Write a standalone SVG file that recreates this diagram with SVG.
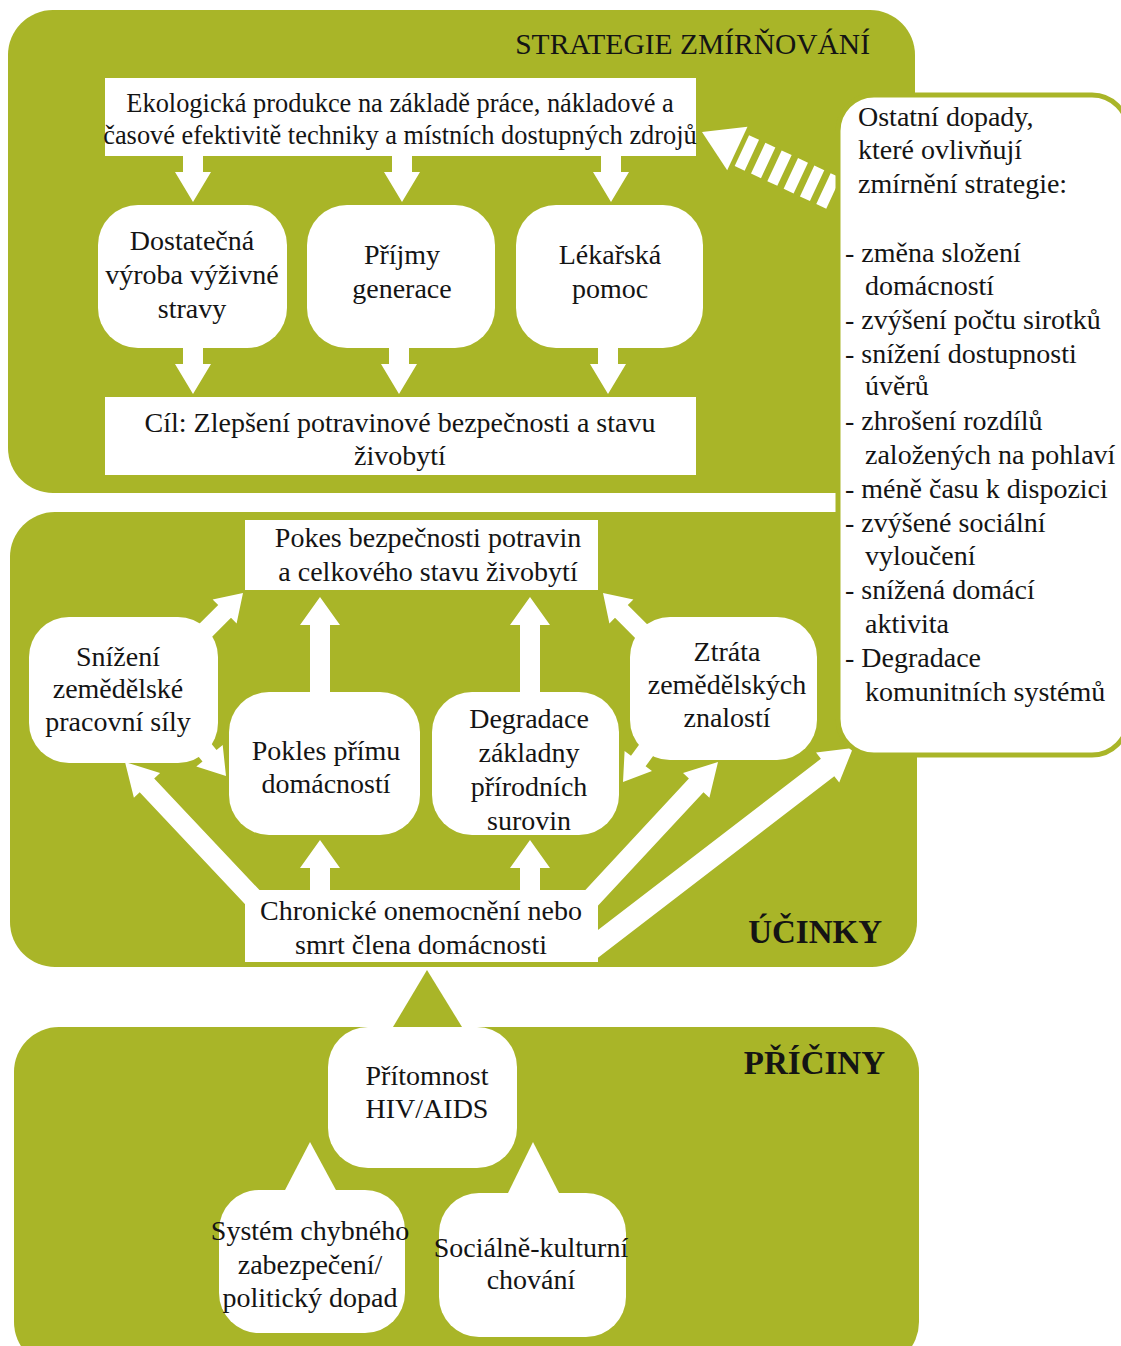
<svg xmlns="http://www.w3.org/2000/svg" width="1121" height="1346" viewBox="0 0 1121 1346">
<style>
.panel{fill:#A9B528}
.node{fill:#ffffff}
.arrow{fill:#ffffff}
.green{fill:#A9B528}
text{font-family:"Liberation Serif","Times New Roman",serif;font-size:28px;fill:#141414}
.c{text-anchor:middle}
.eko{font-size:26.4px}
.title{font-size:33px;font-weight:bold;text-anchor:end}
.title2{font-size:29.5px;text-anchor:end}
</style>
<rect width="1121" height="1346" fill="#ffffff"/>
<g id="panels">
<rect id="panel-strategie" class="panel" x="8" y="10" width="907" height="483" rx="45"/>
<rect id="panel-ucinky" class="panel" x="10" y="512" width="907" height="455" rx="45"/>
<rect id="panel-priciny" class="panel" x="14" y="1027" width="905" height="340" rx="45"/>
<polygon class="green" points="427,970 393,1027 462,1027"/>
</g>
<text class="title2" x="870" y="54">STRATEGIE ZMÍRŇOVÁNÍ</text>
<text class="title" x="882" y="943">ÚČINKY</text>
<text class="title" x="885" y="1074">PŘÍČINY</text>
<g id="connectors">
<polygon class="arrow" points="183,156 203,156 203,172 211,172 193,202 175,172 183,172"/>
<polygon class="arrow" points="392,156 412,156 412,172 420,172 402,202 384,172 392,172"/>
<polygon class="arrow" points="601,156 621,156 621,172 629,172 611,202 593,172 601,172"/>
<polygon class="arrow" points="183,346 203,346 203,364 211,364 193,394 175,364 183,364"/>
<polygon class="arrow" points="389,346 409,346 409,364 417,364 399,394 381,364 389,364"/>
<polygon class="arrow" points="598,346 618,346 618,364 626,364 608,394 590,364 598,364"/>
<g id="striped-arrow" transform="translate(702,132) rotate(25)">
<polygon class="arrow" points="0,0 39,-24 39,24"/>
<rect class="arrow" x="44" y="-17" width="11" height="34"/>
<rect class="arrow" x="62" y="-17" width="11" height="34"/>
<rect class="arrow" x="80" y="-17" width="11" height="34"/>
<rect class="arrow" x="98" y="-17" width="11" height="34"/>
<rect class="arrow" x="116" y="-17" width="11" height="34"/>
<rect class="arrow" x="134" y="-17" width="11" height="34"/>
</g>
<polygon class="arrow" points="310,694 330,694 330,625 340,625 320,597 300,625 310,625"/>
<polygon class="arrow" points="520,694 540,694 540,625 550,625 530,597 510,625 520,625"/>
<polygon class="arrow" points="310,892 330,892 330,868 340,868 320,840 300,868 310,868"/>
<polygon class="arrow" points="520,892 540,892 540,868 550,868 530,840 510,868 520,868"/>
<polygon class="arrow" points="262.3,893.1 154.2,778.4 160.1,773 125,762 133.9,797.7 139.7,792.2 247.7,906.9"/>
<polygon class="arrow" points="592.3,911.8 703.5,792.2 709.4,797.7 718,762 683,773.1 688.9,778.6 577.7,898.2"/>
<polygon class="arrow" points="596.7,958.7 834.3,776.2 839.2,782.6 853,748 816,752.4 820.9,758.8 583.3,941.3"/>
<polygon class="arrow" points="206.4,642.4 231,617.8 236.6,623.4 243,593 212.6,599.4 218.2,605 193.6,629.6"/>
<polygon class="arrow" points="188,743.7 202.5,761.5 196.3,766.6 226,776 222.7,745 216.5,750.1 202,732.3"/>
<polygon class="arrow" points="651.4,628.6 627.8,605 633.4,599.4 603,593 609.4,623.4 615,617.8 638.6,641.4"/>
<polygon class="arrow" points="657.3,750.3 645.6,766.3 652,771 623,782 624.6,751 631,755.7 642.7,739.7"/>
<polygon class="arrow" points="310,1142 284,1192 337,1192"/>
<polygon class="arrow" points="533,1142 507,1195 560,1195"/>
</g>
<g id="node-ekologicka">
<rect class="node" x="105" y="78" width="591" height="78"/>
<text class="c eko" x="400" y="112">Ekologická produkce na základě práce, nákladové a</text>
<text class="c eko" x="400" y="144">časové efektivitě techniky a místních dostupných zdrojů</text>
</g>
<g id="node-dostatecna">
<rect class="node" x="98" y="205" width="189" height="143" rx="40"/>
<text class="c" x="192" y="250">Dostatečná</text>
<text class="c" x="192" y="284">výroba výživné</text>
<text class="c" x="192" y="318">stravy</text>
</g>
<g id="node-prijmy">
<rect class="node" x="307" y="205" width="188" height="143" rx="40"/>
<text class="c" x="402" y="264">Příjmy</text>
<text class="c" x="402" y="298">generace</text>
</g>
<g id="node-lekarska">
<rect class="node" x="516" y="205" width="187" height="143" rx="40"/>
<text class="c" x="610" y="264">Lékařská</text>
<text class="c" x="610" y="298">pomoc</text>
</g>
<g id="node-cil">
<rect class="node" x="105" y="397" width="591" height="78"/>
<text class="c" x="400" y="432">Cíl: Zlepšení potravinové bezpečnosti a stavu</text>
<text class="c" x="400" y="465">živobytí</text>
</g>
<g id="node-ostatni">
<rect x="838" y="95" width="290" height="660" rx="36" fill="#ffffff" stroke="#A9B528" stroke-width="5"/>
<text x="858" y="126">Ostatní dopady,</text>
<text x="858" y="159">které ovlivňují</text>
<text x="858" y="193">zmírnění strategie:</text>
<text x="845" y="262">- změna složení</text>
<text x="865" y="295">domácností</text>
<text x="845" y="329">- zvýšení počtu sirotků</text>
<text x="845" y="363">- snížení dostupnosti</text>
<text x="865" y="395">úvěrů</text>
<text x="845" y="430">- zhrošení rozdílů</text>
<text x="865" y="464">založených na pohlaví</text>
<text x="845" y="498">- méně času k dispozici</text>
<text x="845" y="532">- zvýšené sociální</text>
<text x="865" y="565">vyloučení</text>
<text x="845" y="599">- snížená domácí</text>
<text x="865" y="633">aktivita</text>
<text x="845" y="667">- Degradace</text>
<text x="865" y="701">komunitních systémů</text>
</g>
<g id="node-pokes">
<rect class="node" x="245" y="520" width="353" height="70"/>
<text class="c" x="428" y="547">Pokes bezpečnosti potravin</text>
<text class="c" x="428" y="581">a celkového stavu živobytí</text>
</g>
<g id="node-snizeni">
<rect class="node" x="29" y="617" width="189" height="146" rx="40"/>
<text class="c" x="118" y="666">Snížení</text>
<text class="c" x="118" y="698">zemědělské</text>
<text class="c" x="118" y="731">pracovní síly</text>
</g>
<g id="node-pokles">
<rect class="node" x="229" y="692" width="191" height="143" rx="40"/>
<text class="c" x="326" y="760">Pokles přímu</text>
<text class="c" x="326" y="793">domácností</text>
</g>
<g id="node-degradace">
<rect class="node" x="432" y="692" width="187" height="143" rx="40"/>
<text class="c" x="529" y="728">Degradace</text>
<text class="c" x="529" y="762">základny</text>
<text class="c" x="529" y="796">přírodních</text>
<text class="c" x="529" y="830">surovin</text>
</g>
<g id="node-ztrata">
<rect class="node" x="630" y="617" width="187" height="143" rx="40"/>
<text class="c" x="727" y="661">Ztráta</text>
<text class="c" x="727" y="694">zemědělských</text>
<text class="c" x="727" y="727">znalostí</text>
</g>
<g id="node-chronicke">
<rect class="node" x="245" y="890" width="353" height="72"/>
<text class="c" x="421" y="920">Chronické onemocnění nebo</text>
<text class="c" x="421" y="954">smrt člena domácnosti</text>
</g>
<g id="node-hiv">
<rect class="node" x="328" y="1027" width="189" height="141" rx="40"/>
<text class="c" x="427" y="1085">Přítomnost</text>
<text class="c" x="427" y="1118">HIV/AIDS</text>
</g>
<g id="node-system">
<rect class="node" x="219" y="1190" width="186" height="143" rx="40"/>
<text class="c" x="310" y="1240">Systém chybného</text>
<text class="c" x="310" y="1274">zabezpečení/</text>
<text class="c" x="310" y="1307">politický dopad</text>
</g>
<g id="node-socialne">
<rect class="node" x="439" y="1193" width="187" height="144" rx="40"/>
<text class="c" x="531" y="1257">Sociálně-kulturní</text>
<text class="c" x="531" y="1289">chování</text>
</g>
</svg>
